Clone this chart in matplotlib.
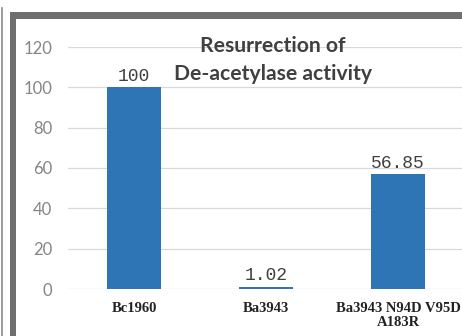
import matplotlib.pyplot as plt
from matplotlib.patches import Rectangle
from matplotlib.lines import Line2D

# data
categories = ['Bc1960', 'Ba3943', 'Ba3943 N94D V95D\nA183R']
activity = [100, 1.02, 56.85]
value_labels = ['100', '1.02', '56.85']
yticks = [0, 20, 40, 60, 80, 100, 120]

W, H = 462, 336


def px(x, y):
    """pixel coords -> figure fraction"""
    return x / W, 1 - y / H


def main():
    fig = plt.figure(figsize=(W / 100, H / 100), dpi=100)
    fig.patch.set_facecolor('white')

    # outer frame like the screenshot
    frame_col = '#6f6f6f'
    fig.add_artist(Line2D([1.5 / W, 1.5 / W], [0, 1 - 8 / H], transform=fig.transFigure,
                          color='#8a8a8a', lw=1.2))
    fig.add_artist(Rectangle(px(10, 336), 6 / W, (336 - 12) / H, transform=fig.transFigure,
                             color=frame_col, lw=0))
    fig.add_artist(Rectangle(px(10, 19), (W - 10) / W, 7 / H, transform=fig.transFigure,
                             color=frame_col, lw=0))

    left, bottom = px(68, 289)
    right, top = px(464, 47)
    ax = fig.add_axes([left, bottom, right - left, top - bottom])

    x = range(len(categories))
    bars = ax.bar(x, activity, width=0.41, color='#2E75B6', zorder=3)

    ax.set_xlim(-0.5, 2.5)
    ax.set_ylim(0, 120)
    ax.set_yticks(yticks)
    ax.yaxis.grid(True, color='#d9d9d9', lw=0.9, zorder=0)
    for s in ax.spines.values():
        s.set_visible(False)
    ax.tick_params(axis='both', length=0)
    ax.tick_params(axis='y', pad=11.5, labelsize=12, labelcolor='#858585')
    for lbl in ax.get_yticklabels():
        lbl.set_family('Lato')

    ax.set_xticks(list(x))
    ax.set_xticklabels(categories, family='Liberation Serif', fontweight='bold',
                       fontsize=10.5, color='#222222', linespacing=1.15)
    ax.tick_params(axis='x', pad=9)

    for b, t in zip(bars, value_labels):
        ax.annotate(t, (b.get_x() + b.get_width() / 2, b.get_height()),
                    xytext=(0, 2), textcoords='offset points', ha='center', va='bottom',
                    family='Liberation Mono', fontsize=13, color='#404040')

    tx, ty = px(273, 60)
    fig.text(tx, ty, 'Resurrection of\nDe-acetylase activity', ha='center', va='center',
             family='Lato', fontweight='bold', fontsize=15.2, color='#404040', linespacing=1.5)

    fig.savefig('out.png', dpi=100)


if __name__ == '__main__':
    main()
